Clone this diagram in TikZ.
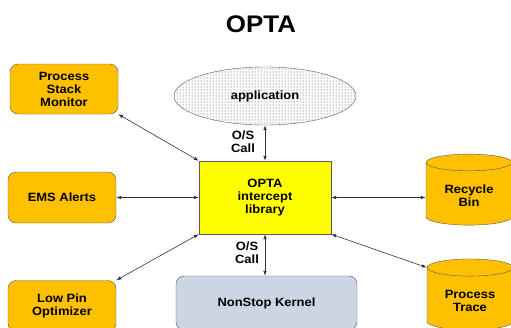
\documentclass[tikz,border=0pt]{standalone}
\usepackage{fontspec}
\setmainfont{Liberation Sans}[FakeStretch=1.08]
\usepackage{tikz}
\usetikzlibrary{arrows.meta,shapes.geometric,patterns}
\definecolor{boxorange}{HTML}{FFC000}
\definecolor{libyellow}{HTML}{FFFF00}
\definecolor{kernblue}{HTML}{CBD5E4}
\definecolor{edgegray}{HTML}{595959}

\begin{document}
\begin{tikzpicture}[x=1pt,y=-1pt,
    >={Latex[length=5pt,width=3.5pt]},
    every node/.style={font=\fontsize{12}{13}\selectfont\bfseries,align=center},
    sidebox/.style={draw=edgegray,fill=boxorange,rounded corners=8pt,minimum width=108pt,minimum height=51pt},
    store/.style={cylinder,shape border rotate=90,aspect=0.3,draw=edgegray,fill=boxorange,minimum width=86pt,minimum height=71pt},
    link/.style={<->,draw=black!80,line width=0.6pt}]
                \useasboundingbox (0,0) rectangle (511,327);
                \node (title) at (261,24) {\fontsize{24}{28}\selectfont\bfseries OPTA};
                \node [sidebox,minimum height=50pt] (psm) at (64,89) {Process\\Stack\\Monitor};
                \node [sidebox] (ems) at (62,197.5) {EMS Alerts};
                \node [sidebox] (lpo) at (62,306) {Low Pin\\Optimizer};
                \node [ellipse,draw=edgegray,pattern=dots,pattern color=black!80,minimum width=182pt,minimum height=58pt] (app) at (265,96) {};
                \node (apptext) at (265,96) {application};
                \node [draw=edgegray,fill=libyellow,minimum width=132pt,minimum height=73pt] (opta) at (265,197.5) {OPTA\\intercept\\library};
                \node [draw=edgegray,fill=kernblue,rounded corners=8pt,minimum width=181pt,minimum height=54pt] (kern) at (266.5,303) {NonStop Kernel};
                \node [store] (bin) at (469,195.5) {Recycle\\Bin};
                \node [store] (trace) at (470,300.5) {Process\\Trace};
                \node (call1) at (243,141.5) {O/S\\Call};
                \node (call2) at (247,253) {O/S\\Call};
                \draw [link] (psm.south east) -- (opta.north west);
                \draw [link] (ems.east) -- (opta.west);
                \draw [link] (lpo.north east) -- (opta.south west);
                \draw [link] (opta.east) -- (opta.east -| bin.west);
                \draw [link] (opta.south east) -- (trace.before top);
                \draw [link] (app.south) -- (opta.north);
                \draw [link] (opta.south) -- (opta.south |- kern.north);
\end{tikzpicture}
\end{document}
